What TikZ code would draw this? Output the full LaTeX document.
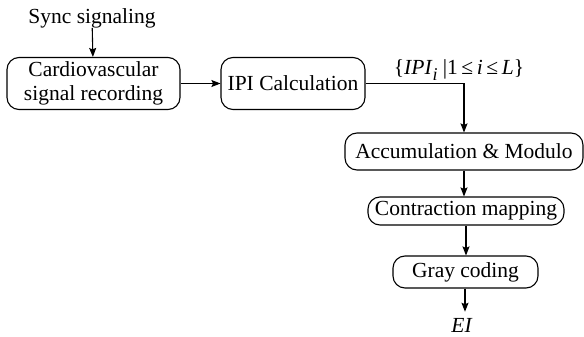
\documentclass[tikz,border=0pt]{standalone}
\usepackage{fontspec}
\setmainfont{Liberation Serif}
\usetikzlibrary{arrows.meta,positioning}

\tikzset{
	blocco/.style={draw, rounded corners=12pt, line width=1.1pt, inner sep=0pt, align=center},
	freccia/.style={-{Stealth[length=9pt, width=7pt, inset=1.5pt]}, line width=1.1pt}
}

\begin{document}
\begin{tikzpicture}[x=1pt, y=-1pt, font=\fontsize{21.5}{24}\selectfont]
		\useasboundingbox (0,0) rectangle (584,337);
		% ingresso
		\node[inner sep=0pt] (sync) at (92,18) {Sync signaling};
		% blocchi
		\node[blocco, minimum width=173pt, minimum height=52pt] (card) at (93.5,83.5) {Cardiovascular\\signal recording};
		\node[blocco, minimum width=144pt, minimum height=52pt] (ipi) at (293,83.5) {IPI Calculation};
		\node[blocco, minimum width=238pt, minimum height=37pt] (accum) at (464,151.5) {Accumulation \& Modulo};
		\node[blocco, minimum width=196pt, minimum height=28pt] (contr) at (466,211) {Contraction mapping};
		\node[blocco, minimum width=145pt, minimum height=32pt] (gray) at (465.5,272) {Gray coding};
		% uscite
		\node[inner sep=0pt] (seq) at (459,70) {\{\textit{IPI}\raisebox{-0.3em}{\fontsize{18}{18}\selectfont\textit{i}} |1\,≤\,\textit{i}\,≤\,\textit{L}\}};
		\node[inner sep=0pt] (ei) at (462,325) {\textit{EI}};
		% collegamenti
		\draw[freccia] (sync) -- (card);
		\draw[freccia] (card) -- (ipi);
		\draw[freccia] (ipi.east) -| (accum.north);
		\draw[freccia] (accum) -- (accum |- contr.north);
		\draw[freccia] (contr) -- (contr |- gray.north);
		\draw[freccia, shorten >=6pt] (gray.south -| ei) ++(3,0) -- ([xshift=3pt]ei.north);
	\end{tikzpicture}
\end{document}
